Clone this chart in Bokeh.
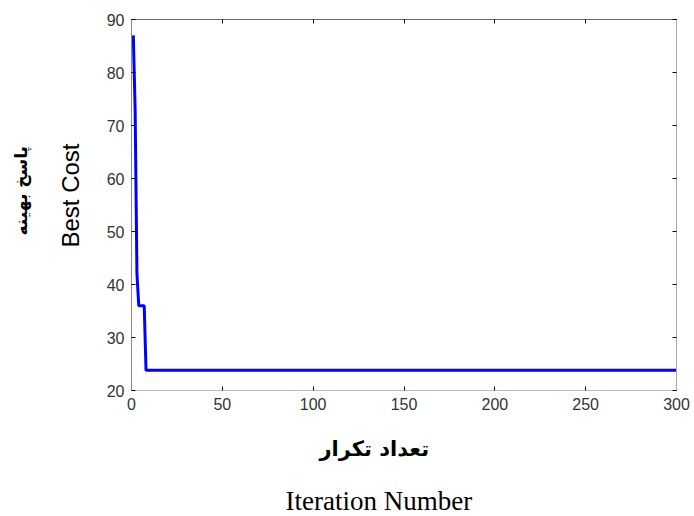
from bokeh.plotting import figure
from bokeh.models import Title, LinearAxis, Range1d, FixedTicker
from bokeh.embed import file_html
from bokeh.resources import INLINE

# Data (Best Cost per iteration, breakpoints of the curve)
iterations = [1, 2, 3, 4, 7, 8, 300]
best_cost = [87, 73, 42, 36, 36, 23.8, 23.8]

x_ticks = [0, 50, 100, 150, 200, 250, 300]
y_ticks = [20, 30, 40, 50, 60, 70, 80, 90]

x_label_fa = "تعداد تکرار"
x_label_en = "Iteration Number"
y_label_fa = "پاسخ بهینه"
y_label_en = "Best Cost"

W, H = 694, 516
FL, FR, FT, FB = 131, 676, 19, 390  # frame edges in page pixels

p = figure(width=W, height=H, output_backend="svg", toolbar_location=None,
           x_range=Range1d(0, 300), y_range=Range1d(20, 90),
           min_border_left=FL, min_border_right=W - FR, min_border_top=FT,
           min_border_bottom=H - FB)
p.grid.visible = False
p.background_fill_color = "white"
p.outline_line_color = "#777777"
p.outline_line_width = 1

p.line(iterations, best_cost, line_color="#0000ff", line_width=3)

for ax, ticks in ((p.xaxis[0], x_ticks), (p.yaxis[0], y_ticks)):
    ax.ticker = FixedTicker(ticks=ticks)
    ax.major_tick_in = 4
    ax.major_tick_out = 0
    ax.minor_tick_line_color = None
    ax.major_tick_line_color = "black"
    ax.major_label_text_font = "Liberation Sans"
    ax.major_label_text_font_size = "16px"
    ax.major_label_text_color = "#333333"
    ax.major_label_standoff = 7
p.xaxis[0].axis_line_color = "#bbbbbb"
p.yaxis[0].axis_line_color = "#888888"

# mirrored axes (ticks only)
right = LinearAxis(ticker=FixedTicker(ticks=y_ticks))
top = LinearAxis(ticker=FixedTicker(ticks=x_ticks))
for ax in (right, top):
    ax.major_tick_in = 4
    ax.major_tick_out = 0
    ax.minor_tick_line_color = None
    ax.major_tick_line_color = "black"
    ax.major_label_text_font_size = "0px"
    ax.major_label_standoff = 0
right.axis_line_color = "#aaaaaa"
top.axis_line_color = "#666666"
p.add_layout(right, "right")
p.add_layout(top, "above")

# axis titles (stacked outward from the frame)
p.add_layout(Title(text=x_label_fa, text_font="DejaVu Sans", text_font_style="bold",
                   text_font_size="21px", align="left", offset=188, standoff=45,
                   text_color="black"), "below")
p.add_layout(Title(text=x_label_en, text_font="Liberation Serif", text_font_style="normal",
                   text_font_size="27px", align="left", offset=154, standoff=0,
                   text_color="black"), "below")
p.add_layout(Title(text=y_label_en, text_font="Liberation Sans", text_font_style="normal",
                   text_font_size="24px", align="left", offset=143, standoff=39,
                   text_color="black"), "left")
p.add_layout(Title(text=y_label_fa, text_font="DejaVu Sans", text_font_style="bold",
                   text_font_size="17px", align="left", offset=155, standoff=10,
                   text_color="black"), "left")

open("out.html", "w").write(file_html(p, INLINE))
